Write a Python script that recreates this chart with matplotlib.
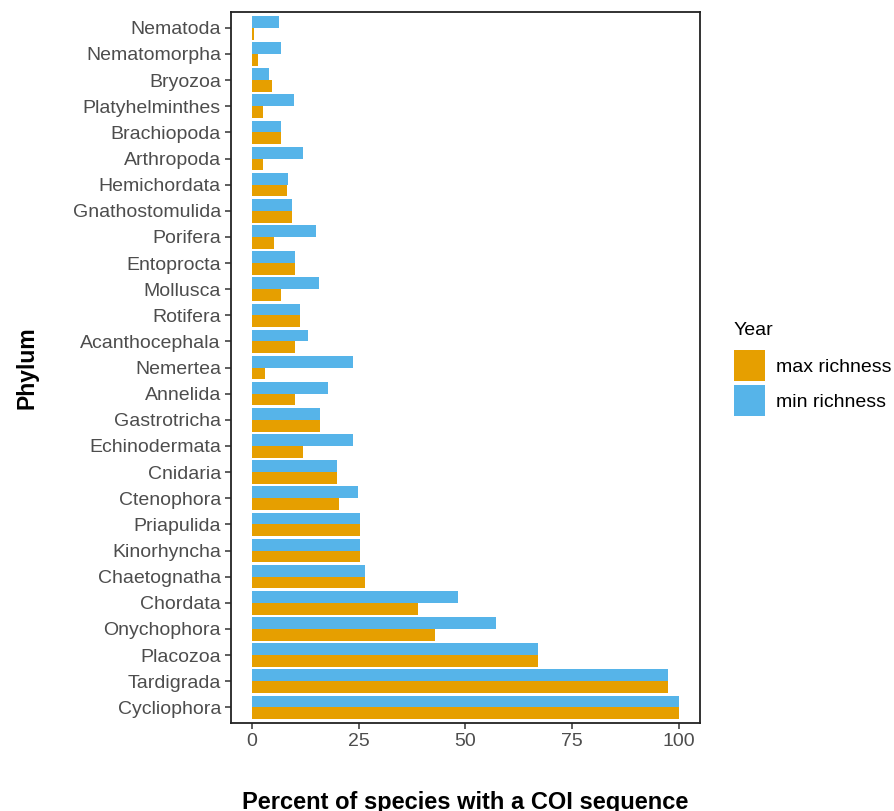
import numpy as np
import matplotlib
matplotlib.use("Agg")
import matplotlib.pyplot as plt
from matplotlib.patches import Patch

plt.rcParams["font.family"] = ["Liberation Sans", "DejaVu Sans"]

# top to bottom as drawn
phyla = ["Nematoda", "Nematomorpha", "Bryozoa", "Platyhelminthes", "Brachiopoda",
         "Arthropoda", "Hemichordata", "Gnathostomulida", "Porifera", "Entoprocta",
         "Mollusca", "Rotifera", "Acanthocephala", "Nemertea", "Annelida",
         "Gastrotricha", "Echinodermata", "Cnidaria", "Ctenophora", "Priapulida",
         "Kinorhyncha", "Chaetognatha", "Chordata", "Onychophora", "Placozoa",
         "Tardigrada", "Cycliophora"]
min_rich = [6.4, 6.8, 4.1, 9.8, 6.8, 11.9, 8.5, 9.3, 15.1, 10.1,
            15.6, 11.2, 13.1, 23.7, 17.8, 15.9, 23.7, 19.9, 24.8, 25.2,
            25.4, 26.5, 48.3, 57.2, 67.0, 97.4, 100.0]
max_rich = [0.5, 1.3, 4.7, 2.6, 6.8, 2.6, 8.3, 9.3, 5.1, 10.1,
            6.8, 11.2, 10.0, 3.0, 10.0, 15.9, 11.9, 19.9, 20.5, 25.2,
            25.4, 26.5, 39.0, 42.8, 67.0, 97.4, 100.0]

ORANGE = "#E69F00"
BLUE = "#56B4E9"

fig = plt.figure(figsize=(8.94, 8.11), dpi=100)
ax = fig.add_axes([0.258, 0.1085, 0.525, 0.8765])

n = len(phyla)
y = np.arange(n)[::-1]  # first phylum at top
h = 0.45
ax.barh(y + h / 2, min_rich, height=h, color=BLUE, edgecolor="none")
ax.barh(y - h / 2, max_rich, height=h, color=ORANGE, edgecolor="none")

ax.set_xlim(-5, 105)
ax.set_ylim(-0.6, n - 1 + 0.6)
ax.set_xticks([0, 25, 50, 75, 100])
ax.set_yticks(y)
ax.set_yticklabels(phyla)
ax.tick_params(axis="both", labelsize=14, colors="#333333", length=4, width=1.1,
               labelcolor="#4d4d4d", pad=3)
for s in ax.spines.values():
    s.set_linewidth(1.3)
    s.set_color("#222222")

ax.set_ylabel("Phylum", fontsize=16.5, fontweight="bold")
ax.set_xlabel("Percent of species with a COI sequence", fontsize=17,
              fontweight="bold", labelpad=30)
ax.yaxis.set_label_coords(-0.41, 0.5)

handles = [Patch(facecolor=ORANGE, label="max richness"),
           Patch(facecolor=BLUE, label="min richness")]
leg = fig.legend(handles=handles, title="Year", loc="upper left",
                 bbox_to_anchor=(0.812, 0.612), frameon=False, fontsize=14,
                 title_fontsize=14, handlelength=1.6, handleheight=2.08,
                 handletextpad=0.6, labelspacing=0.2, borderaxespad=0)
leg._legend_box.align = "left"
leg._legend_box.sep = 7.8  # a bit more room under the title

fig.savefig("out.png", dpi=100)
